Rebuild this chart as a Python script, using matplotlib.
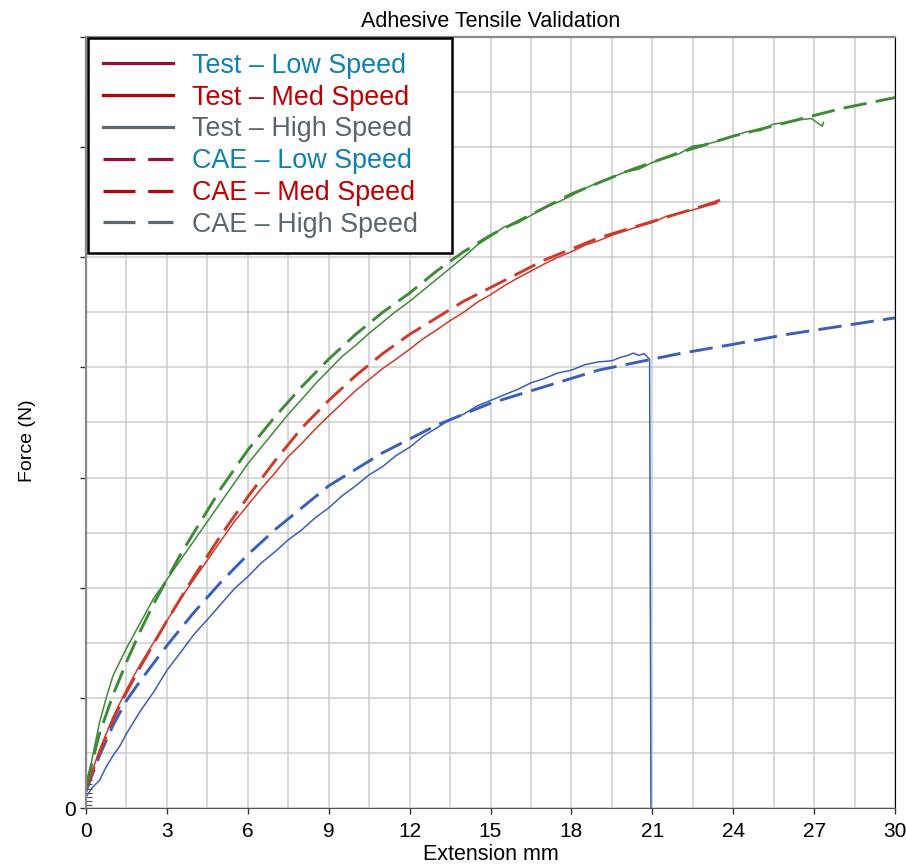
import matplotlib.pyplot as plt
from matplotlib.ticker import MultipleLocator
from matplotlib.lines import Line2D

# extension (mm) / force (grid units)
cae_low_x = [0, 0.5, 1, 1.5, 2, 3, 4, 5, 6, 7, 8, 9, 10, 11, 12, 13, 14, 15, 16, 17, 18, 19, 20, 21, 22, 24, 26, 28, 30]
cae_low_y = [0.3, 0.95, 1.5, 1.95, 2.3, 2.95, 3.55, 4.1, 4.6, 5.05, 5.45, 5.85, 6.15, 6.45, 6.7, 6.95, 7.15, 7.35, 7.5, 7.65, 7.8, 7.95, 8.05, 8.15, 8.25, 8.42, 8.6, 8.75, 8.9]

test_low_x = [0, 0.25, 0.5, 0.75, 1, 1.25, 1.5, 2, 2.5, 3, 3.5, 4, 4.5, 5, 5.5, 6, 6.5, 7, 7.5, 8, 8.5, 9, 9.5, 10,
              10.5, 11, 11.5, 12, 12.5, 13, 13.5, 14, 14.5, 15, 15.5, 16, 16.5, 17, 17.5, 18, 18.5, 19, 19.5, 19.8,
              20.1, 20.3, 20.5, 20.7, 20.9, 20.95]
test_low_y = [0.2, 0.38, 0.5, 0.75, 0.95, 1.12, 1.35, 1.75, 2.1, 2.5, 2.82, 3.15, 3.42, 3.7, 3.98, 4.2, 4.45, 4.65, 4.87, 5.05, 5.27, 5.45, 5.67, 5.85,
              6.05, 6.2, 6.4, 6.55, 6.75, 6.9, 7.05, 7.15, 7.3, 7.4, 7.5, 7.6, 7.72, 7.8, 7.9, 7.95, 8.05, 8.1, 8.12, 8.18,
              8.22, 8.26, 8.22, 8.25, 8.15, 0.0]

cae_med_x = [0, 0.5, 1, 1.5, 2, 3, 4, 5, 6, 7, 8, 9, 10, 11, 12, 13, 14, 15, 16, 17, 18, 19, 20, 21, 22, 23, 23.6]
cae_med_y = [0.35, 1.0, 1.6, 2.1, 2.55, 3.4, 4.2, 4.95, 5.65, 6.3, 6.9, 7.4, 7.85, 8.25, 8.6, 8.9, 9.2, 9.45, 9.7, 9.95, 10.15, 10.35, 10.5, 10.65, 10.8, 10.95, 11.05]

test_med_x = [0, 0.25, 0.5, 0.75, 1, 1.5, 2, 2.5, 3, 3.5, 4, 4.5, 5, 5.5, 6, 6.5, 7, 7.5, 8, 8.5, 9, 9.5, 10,
              10.5, 11, 11.5, 12, 12.5, 13, 13.5, 14, 14.5, 15, 15.5, 16, 16.5, 17, 17.5, 18, 18.5, 19, 19.5, 20,
              20.5, 21, 21.5, 22, 22.5, 23, 23.4]
test_med_y = [0.3, 0.7, 1.05, 1.35, 1.65, 2.15, 2.6, 3.0, 3.4, 3.8, 4.15, 4.5, 4.85, 5.2, 5.5, 5.8, 6.08, 6.38, 6.62, 6.88, 7.12, 7.35, 7.58,
              7.78, 7.98, 8.15, 8.33, 8.52, 8.68, 8.85, 9.0, 9.18, 9.32, 9.48, 9.62, 9.75, 9.88, 10.0, 10.1, 10.22, 10.3, 10.4, 10.48,
              10.56, 10.63, 10.74, 10.8, 10.86, 10.93, 10.98]

cae_high_x = [0, 0.5, 1, 1.5, 2, 2.5, 3, 3.5, 4, 4.5, 5, 6, 7, 8, 9, 10, 11, 12, 13, 14, 15, 16, 18, 20, 22, 24, 26, 28, 30]
cae_high_y = [0.4, 1.35, 2.05, 2.65, 3.2, 3.7, 4.15, 4.6, 5.0, 5.4, 5.8, 6.5, 7.1, 7.65, 8.15, 8.6, 9.0, 9.35, 9.75, 10.1, 10.4, 10.65, 11.15, 11.55, 11.9, 12.2, 12.45, 12.7, 12.9]

test_high_x = [0, 0.25, 0.5, 0.75, 1, 1.25, 1.5, 2, 2.5, 3, 3.5, 4, 4.5, 5, 5.5, 6, 6.5, 7, 7.5, 8, 8.5, 9, 9.5, 10,
               10.5, 11, 11.5, 12, 12.5, 13, 13.5, 14, 14.5, 15, 15.5, 16, 16.5, 17, 17.5, 18, 18.5, 19, 19.5, 20,
               20.5, 21, 21.5, 22, 22.5, 23, 23.5, 24, 24.5, 25, 25.5, 26, 26.5, 26.9, 27.1, 27.3, 27.35]
test_high_y = [0.3, 0.95, 1.55, 2.0, 2.4, 2.65, 2.9, 3.35, 3.8, 4.15, 4.5, 4.85, 5.2, 5.55, 5.9, 6.25, 6.55, 6.85, 7.15, 7.42, 7.7, 7.95, 8.2, 8.4,
               8.62, 8.82, 9.02, 9.2, 9.4, 9.6, 9.8, 10.0, 10.22, 10.38, 10.55, 10.62, 10.76, 10.9, 11.0, 11.12, 11.25, 11.36, 11.45, 11.55,
               11.6, 11.72, 11.8, 11.88, 12.02, 12.05, 12.12, 12.2, 12.28, 12.3, 12.42, 12.45, 12.5, 12.52, 12.45, 12.38, 12.45]

# toe-region samples stacked near the origin
toe_x = [0.12, 0.12, 0.12, 0.12, 0.12, 0.12, 0.12]
toe_y = [0.05, 0.12, 0.2, 0.28, 0.35, 0.43, 0.5]

legend_labels = ["Test \u2013 Low Speed", "Test \u2013 Med Speed", "Test \u2013 High Speed",
                 "CAE \u2013 Low Speed", "CAE \u2013 Med Speed", "CAE \u2013 High Speed"]

blue, red, green = "#3b5fb6", "#cc3a2c", "#3f8a38"
handle_colors = ["#9c0c3a", "#c00000", "#5d6870"]
text_colors = ["#1080b0", "#c00000", "#5a666e"]
dash = (0, (8, 3.2))

plt.rcParams['font.family'] = ['Liberation Sans', 'DejaVu Sans']

fig = plt.figure(figsize=(9.06, 8.65), dpi=100)
ax = fig.add_axes([86 / 906, 1 - 808 / 865, 809 / 906, 771 / 865])

ax.plot(cae_low_x, cae_low_y, color=blue, lw=2.1, linestyle=dash)
ax.plot(cae_med_x, cae_med_y, color=red, lw=2.1, linestyle=dash)
ax.plot(cae_high_x, cae_high_y, color=green, lw=2.1, linestyle=dash)
ax.plot(test_low_x, test_low_y, color=blue, lw=1.1)
ax.plot(test_med_x, test_med_y, color=red, lw=1.1)
ax.plot(test_high_x, test_high_y, color=green, lw=1.1)
ax.plot(toe_x, toe_y, color='#555555', lw=0, marker='_', markersize=5, markeredgewidth=0.8)

ax.set_xlim(0, 30)
ax.set_ylim(0, 14)
ax.xaxis.set_major_locator(MultipleLocator(3))
ax.xaxis.set_minor_locator(MultipleLocator(1.5))
ax.yaxis.set_minor_locator(MultipleLocator(1))
ax.set_yticks(range(0, 15, 2))
ax.set_yticklabels(['0'] + [''] * 7)
ax.grid(True, which='both', color='#cdcdcd', lw=1.1)
ax.set_axisbelow(True)
ax.tick_params(which='major', length=4, width=1, color='#333333', labelsize=15)
ax.tick_params(axis='x', pad=6)
ax.tick_params(which='minor', length=0)

for side in ['left', 'top']:
    ax.spines[side].set_color('#888888')
    ax.spines[side].set_linewidth(1.6)
ax.spines['bottom'].set_color('#555555')
ax.spines['right'].set_color('black')

ax.set_title("Adhesive Tensile Validation", fontsize=15.5, pad=7)
ax.set_xlabel("Extension mm", fontsize=15.5)
ax.xaxis.set_label_coords(0.5, -0.047)
ax.set_ylabel("Force (N)", fontsize=14)
ax.yaxis.set_label_coords(-0.062, 0.477)

handles = [Line2D([], [], color=c, lw=2.3) for c in handle_colors] + \
          [Line2D([], [], color=c, lw=2.3, linestyle=(0, (10, 4))) for c in handle_colors]
# expand mode gives the box its wide right margin
leg = ax.legend(handles, legend_labels, loc='upper left', bbox_to_anchor=(0.0025, 0.0, 0.45, 0.9987),
                mode='expand', borderaxespad=0, fontsize=19.4, labelspacing=0.215, handlelength=2.6,
                handletextpad=0.7, borderpad=0.55, fancybox=False, framealpha=1)
leg.get_frame().set_edgecolor('black')
leg.get_frame().set_linewidth(1.8)
for txt, c in zip(leg.get_texts(), text_colors * 2):
    txt.set_color(c)

fig.savefig("out.png", dpi=100)
